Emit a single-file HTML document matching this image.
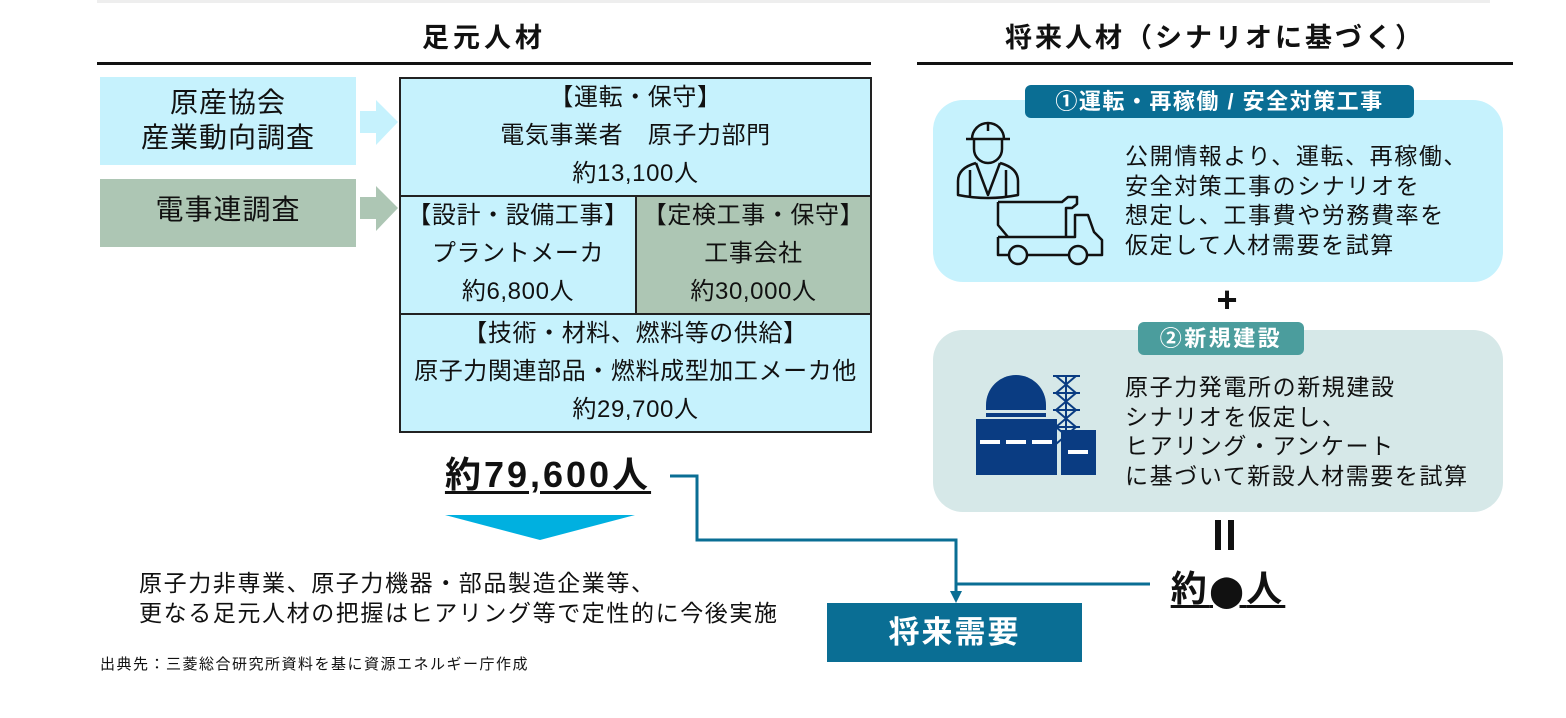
<!DOCTYPE html>
<html><head><meta charset="utf-8">
<style>
*{margin:0;padding:0;box-sizing:border-box}
body{width:1566px;height:718px;background:#fff;position:relative;overflow:hidden;font-family:"Liberation Sans","Noto Sans CJK JP",sans-serif;color:#111}
.a{position:absolute}
.c{text-align:center}
.cell{position:absolute;border:2px solid #222;background:#c6f2fd;text-align:center;font-size:24px;letter-spacing:0.6px;line-height:38px;padding-top:0px;white-space:nowrap}
.t{font-size:23px;line-height:29.5px;letter-spacing:1.6px;white-space:nowrap}
</style></head><body>
<div class="a" style="left:97px;top:0;width:1393px;height:3px;background:#eeeeee"></div>
<div class="a c" style="left:97px;top:16px;width:774px;font-size:27px;font-weight:bold;letter-spacing:4px">足元人材</div>
<div class="a" style="left:97px;top:62px;width:774px;height:3px;background:#111"></div>
<div class="a c" style="left:917px;top:16px;width:596px;font-size:27px;font-weight:bold;letter-spacing:3px;white-space:nowrap">将来人材（シナリオに基づく）</div>
<div class="a" style="left:917px;top:62px;width:596px;height:3px;background:#111"></div>

<div class="a c" style="left:100px;top:77px;width:256px;height:88px;background:#c6f2fd;font-size:28px;letter-spacing:1px;line-height:35px;padding-top:8px">原産協会<br>産業動向調査</div>
<div class="a c" style="left:100px;top:179px;width:256px;height:68px;background:#adc6b4;font-size:28px;letter-spacing:1px;line-height:34px;padding-top:14px">電事連調査</div>
<svg class="a" style="left:360px;top:100px" width="40" height="160">
<polygon points="0,11 16,11 16,0 38,22 16,45 16,33 0,33" fill="#c6f2fd"/>
<polygon points="0,97 16,97 16,86 38,108 16,131 16,119 0,119" fill="#adc6b4"/>
</svg>

<div class="cell" style="left:399px;top:77px;width:473px;height:120px">【運転・保守】<br>電気事業者　原子力部門<br>約13,100人</div>
<div class="cell" style="left:399px;top:195px;width:238px;height:120px">【設計・設備工事】<br>プラントメーカ<br>約6,800人</div>
<div class="cell" style="left:635px;top:195px;width:237px;height:120px;background:#adc6b4">【定検工事・保守】<br>工事会社<br>約30,000人</div>
<div class="cell" style="left:399px;top:313px;width:473px;height:120px">【技術・材料、燃料等の供給】<br>原子力関連部品・燃料成型加工メーカ他<br>約29,700人</div>

<div class="a c" style="left:400px;top:446px;width:296px;font-size:36px;letter-spacing:3px;font-weight:bold;text-decoration:underline;text-underline-offset:4px">約79,600人</div>
<svg class="a" style="left:440px;top:510px" width="200" height="35"><polygon points="5,5 195,5 100,30" fill="#00b0e0"/></svg>
<div class="a t" style="left:139px;top:569px">原子力非専業、原子力機器・部品製造企業等、<br>更なる足元人材の把握はヒアリング等で定性的に今後実施</div>
<div class="a" style="left:100px;top:653px;font-size:15px;letter-spacing:1.5px;white-space:nowrap">出典先：三菱総合研究所資料を基に資源エネルギー庁作成</div>

<svg class="a" style="left:0;top:0" width="1566" height="718">
<polyline points="670,476 697,476 697,540 956,540 956,592" fill="none" stroke="#0a6e94" stroke-width="3"/>
<line x1="956" y1="584" x2="1150" y2="584" stroke="#0a6e94" stroke-width="3"/>
<polygon points="950,591 962,591 956,603" fill="#0a6e94"/>
</svg>
<div class="a c" style="left:827px;top:603px;width:255px;height:59px;background:#0a6e94;color:#fff;font-size:31px;letter-spacing:2px;font-weight:bold;line-height:59px">将来需要</div>

<div class="a" style="left:933px;top:100px;width:570px;height:182px;background:#c6f2fd;border-radius:30px"></div>
<div class="a c" style="left:1025px;top:85px;width:389px;height:33px;background:#0a6e94;border-radius:6px;color:#fff;font-size:22px;letter-spacing:1.5px;font-weight:bold;line-height:33px;white-space:nowrap">①運転・再稼働 / 安全対策工事</div>
<div class="a t" style="left:1125px;top:142px">公開情報より、運転、再稼働、<br>安全対策工事のシナリオを<br>想定し、工事費や労務費率を<br>仮定して人材需要を試算</div>

<div class="a c" style="left:1207px;top:280px;width:40px;font-size:36px;font-weight:bold;line-height:40px">+</div>

<div class="a" style="left:933px;top:330px;width:570px;height:182px;background:#d6e8e8;border-radius:30px"></div>
<div class="a c" style="left:1138px;top:322px;width:166px;height:33px;background:#4b9d9d;border-radius:6px;color:#fff;font-size:22px;letter-spacing:2.5px;font-weight:bold;line-height:33px">②新規建設</div>
<div class="a t" style="left:1125px;top:373px">原子力発電所の新規建設<br>シナリオを仮定し、<br>ヒアリング・アンケート<br>に基づいて新設人材需要を試算</div>

<svg class="a" style="left:0;top:0" width="1566" height="718">
<g fill="none" stroke="#111" stroke-width="2.5" stroke-linejoin="round">
<path d="M966,139 H1010 M972,139 a16,16 0 0 1 32,0 M988,123 v8"/>
<path d="M974,139 v10 a14,14 0 0 0 28,0 v-10"/>
<path d="M976,163 q-18,5 -18,18 v14 q30,6 60,0 v-14 q0,-13 -18,-18 M976,163 l12,32 l12,-32 M970,170 v27 M1006,170 v27"/>
<path d="M998,202 H1062 L1068,197 H1077 V204 L1072,208 H1066 V237 M998,202 V225 L1008,237"/>
<path d="M998,237 V255 H1009 M1027,255 H1069 M1087,255 H1102 V240 L1094,232 L1088,215 H1075 V237 H998"/>
<circle cx="1018" cy="255" r="9"/><circle cx="1078" cy="255" r="9"/>
</g>
<g stroke="#0a3c82" stroke-width="2" fill="none"><path d="M1053,376 h27 M1053,393 h27 M1053,410 h27 M1053,427 h27 M1056,376 l20,17 l-20,17 l20,17 l-20,17 M1076,376 l-20,17 l20,17 l-20,17 l20,17 M1066,376 v90"/></g>
<path d="M986,405 a30,30 0 0 1 60,0 v5 h-60z" fill="#0a3c82"/>
<rect x="986" y="413" width="60" height="4" fill="#0a3c82"/>
<rect x="976" y="419" width="81" height="56" fill="#0a3c82"/>
<rect x="1061" y="430" width="35" height="45" fill="#0a3c82"/>
<g fill="#fff"><rect x="980" y="440" width="20" height="4"/><rect x="1006" y="440" width="20" height="4"/><rect x="1032" y="440" width="20" height="4"/><rect x="1068" y="450" width="20" height="4"/></g>
</svg>

<div class="a" style="left:1215px;top:520px;width:6px;height:30px;background:#111"></div>
<div class="a" style="left:1228px;top:520px;width:6px;height:30px;background:#111"></div>
<div class="a c" style="left:1140px;top:560px;width:176px;font-size:36px;letter-spacing:3px;font-weight:bold;text-decoration:underline;text-underline-offset:4px">約<span style="font-size:30px">⬤</span>人</div>
</body></html>
